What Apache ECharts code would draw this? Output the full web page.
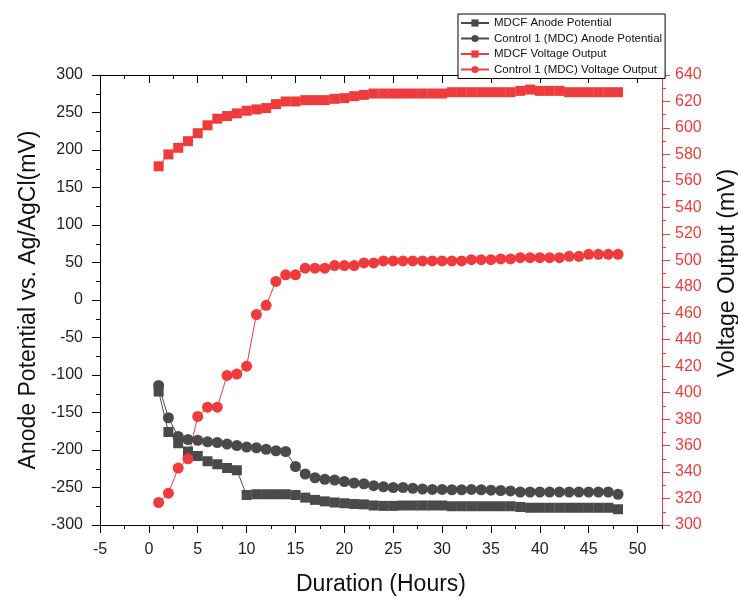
<!DOCTYPE html>
<html>
<head>
<meta charset="utf-8">
<title>Anode potential and voltage output</title>
<script src="https://cdn.jsdelivr.net/npm/echarts@6/dist/echarts.min.js"></script>
<style>
  html, body { margin: 0; padding: 0; background: #fff; }
  #chart { width: 738px; height: 597px; }
</style>
</head>
<body>
<div id="chart"></div>
<script>
// durée (heures)
var hours = [1, 2, 3, 4, 5, 6, 7, 8, 9, 10, 11, 12, 13, 14, 15, 16, 17, 18, 19, 20, 21, 22, 23, 24,
  25, 26, 27, 28, 29, 30, 31, 32, 33, 34, 35, 36, 37, 38, 39, 40, 41, 42, 43, 44, 45, 46, 47, 48];

// potentiel d'anode (mV vs Ag/AgCl)
var mdcfAnode = [-122, -176, -191, -202, -208, -215, -219, -224, -227, -260, -259, -259, -259, -259, -260, -263.5,
  -266.5, -268.5, -270, -271, -272, -272.5, -274, -274.5, -274.5, -274, -274, -274, -274, -274, -275, -275,
  -275, -275, -275, -275, -275, -276, -277, -277, -277, -277, -277, -277, -277, -277, -277, -279];
var controlAnode = [-114, -157, -182, -186, -187, -189, -190, -192, -194, -196, -197, -199, -201, -202, -222, -232,
  -237, -239, -240, -242, -244, -245, -247.5, -249, -250, -250, -251, -252, -252.5, -252.5, -253, -253,
  -252.5, -253, -253.5, -254, -254.5, -256, -256, -256, -256, -256, -256, -256, -256, -256, -256, -259];

// tension de sortie (mV)
var mdcfVoltage = [571, 580, 585, 590, 596, 602, 607, 609, 611, 613, 614, 615, 618, 620, 620, 621,
  621, 621, 622, 622.5, 624, 625, 626, 626, 626, 626, 626, 626, 626, 626, 627, 627,
  627, 627, 627, 627, 627, 628, 629, 628, 628, 628, 627, 627, 627, 627, 627, 627];
var controlVoltage = [317, 324, 343, 350, 382, 389, 389, 413, 414, 420, 459, 466, 484, 489, 489, 494,
  494, 494, 496, 496, 496, 498, 498, 499.5, 499.5, 499.5, 499.5, 499.5, 499.5, 499.5, 499.5, 499.5,
  500.5, 500.5, 500.5, 501, 501, 502, 502, 502, 502, 502, 503, 503, 504.5, 504.5, 504.5, 504.5];

// graduations
var xMajorTicks = [-5, 0, 5, 10, 15, 20, 25, 30, 35, 40, 45, 50];
var xMinorTicks = [-2.5, 2.5, 7.5, 12.5, 17.5, 22.5, 27.5, 32.5, 37.5, 42.5, 47.5, 52.5];

var legendNames = ['MDCF Anode Potential', 'Control 1 (MDC) Anode Potential',
  'MDCF Voltage Output', 'Control 1 (MDC) Voltage Output'];

var DARK = '#4a4a4a';
var RED = '#ef3b3b';
var FONT = 'Liberation Sans';

function pairs(values) {
  var out = [];
  for (var i = 0; i < hours.length; i++) {
    out.push([hours[i], values[i]]);
  }
  return out;
}

// axe x de base (bas / haut)
function xAxisBase(position, ticks, length, inside, showLine) {
  return {
    type: 'value',
    position: position,
    min: -5,
    max: 52.5,
    axisLine: { show: showLine, onZero: false, lineStyle: { color: '#000', width: 1 } },
    axisTick: { show: true, inside: inside, length: length, customValues: ticks, lineStyle: { color: '#000', width: 1 } },
    axisLabel: { show: false },
    splitLine: { show: false },
  };
}

var chart = echarts.init(document.getElementById('chart'));

var bottomMajor = xAxisBase('bottom', xMajorTicks, 8, false, true);
bottomMajor.axisLabel = {
  show: true,
  customValues: xMajorTicks,
  margin: 17,
  fontSize: 16,
  color: '#222',
  fontFamily: FONT,
};
bottomMajor.name = 'Duration (Hours)';
bottomMajor.nameLocation = 'middle';
bottomMajor.nameGap = 48;
bottomMajor.nameTextStyle = { fontSize: 23, color: '#111', fontFamily: FONT };

var option = {
  animation: false,
  backgroundColor: '#fff',
  grid: {
    left: 100,
    right: 76,
    top: 75,
    bottom: 72,
    containLabel: false,
    outerBoundsMode: 'none',
  },
  legend: {
    data: legendNames,
    orient: 'vertical',
    left: 458,
    top: 14,
    itemWidth: 28,
    itemHeight: 9,
    itemGap: 3.5,
    padding: [3, 3, 3, 2],
    borderColor: '#000',
    borderWidth: 1,
    backgroundColor: '#fff',
    textStyle: { fontSize: 11.5, color: '#111', fontFamily: FONT },
  },
  xAxis: [
    bottomMajor,
    xAxisBase('bottom', xMinorTicks, 4, false, false),
    xAxisBase('top', xMajorTicks, 8, true, true),
    xAxisBase('top', xMinorTicks, 4, true, false),
  ],
  yAxis: [
    {
      type: 'value',
      position: 'left',
      min: -300,
      max: 300,
      interval: 50,
      axisLine: { show: true, onZero: false, lineStyle: { color: '#000', width: 1 } },
      axisTick: { show: true, length: 8, lineStyle: { color: '#000' } },
      minorTick: { show: true, splitNumber: 2, length: 4, lineStyle: { color: '#000' } },
      axisLabel: { margin: 17, fontSize: 16, color: '#222', fontFamily: FONT },
      splitLine: { show: false },
      name: 'Anode Potential vs. Ag/AgCl(mV)',
      nameLocation: 'middle',
      nameGap: 60,
      nameTextStyle: { fontSize: 23, color: '#111', fontFamily: FONT },
    },
    {
      type: 'value',
      position: 'right',
      min: 300,
      max: 640,
      interval: 20,
      axisLine: { show: true, onZero: false, lineStyle: { color: RED, width: 1 } },
      axisTick: { show: true, length: 8, lineStyle: { color: RED } },
      minorTick: { show: true, splitNumber: 2, length: 4, lineStyle: { color: RED } },
      axisLabel: { margin: 13, fontSize: 16, color: RED, fontFamily: FONT },
      splitLine: { show: false },
      name: 'Voltage Output (mV)',
      nameLocation: 'middle',
      nameGap: 54,
      nameTextStyle: { fontSize: 23, color: '#111', fontFamily: FONT, padding: [0, 0, 0, 54] },
    },
  ],
  series: [
    {
      name: legendNames[0],
      type: 'line',
      xAxisIndex: 0,
      yAxisIndex: 0,
      data: pairs(mdcfAnode),
      symbol: 'rect',
      symbolSize: 10,
      showAllSymbol: true,
      itemStyle: { color: DARK },
      lineStyle: { color: DARK, width: 1 },
    },
    {
      name: legendNames[1],
      type: 'line',
      xAxisIndex: 0,
      yAxisIndex: 0,
      data: pairs(controlAnode),
      symbol: 'circle',
      symbolSize: 11,
      showAllSymbol: true,
      itemStyle: { color: DARK },
      lineStyle: { color: DARK, width: 1 },
    },
    {
      name: legendNames[2],
      type: 'line',
      xAxisIndex: 0,
      yAxisIndex: 1,
      data: pairs(mdcfVoltage),
      symbol: 'rect',
      symbolSize: 10,
      showAllSymbol: true,
      itemStyle: { color: RED },
      lineStyle: { color: RED, width: 1 },
    },
    {
      name: legendNames[3],
      type: 'line',
      xAxisIndex: 0,
      yAxisIndex: 1,
      data: pairs(controlVoltage),
      symbol: 'circle',
      symbolSize: 11,
      showAllSymbol: true,
      itemStyle: { color: RED },
      lineStyle: { color: RED, width: 1 },
    },
  ],
};

chart.setOption(option);
</script>
</body>
</html>
